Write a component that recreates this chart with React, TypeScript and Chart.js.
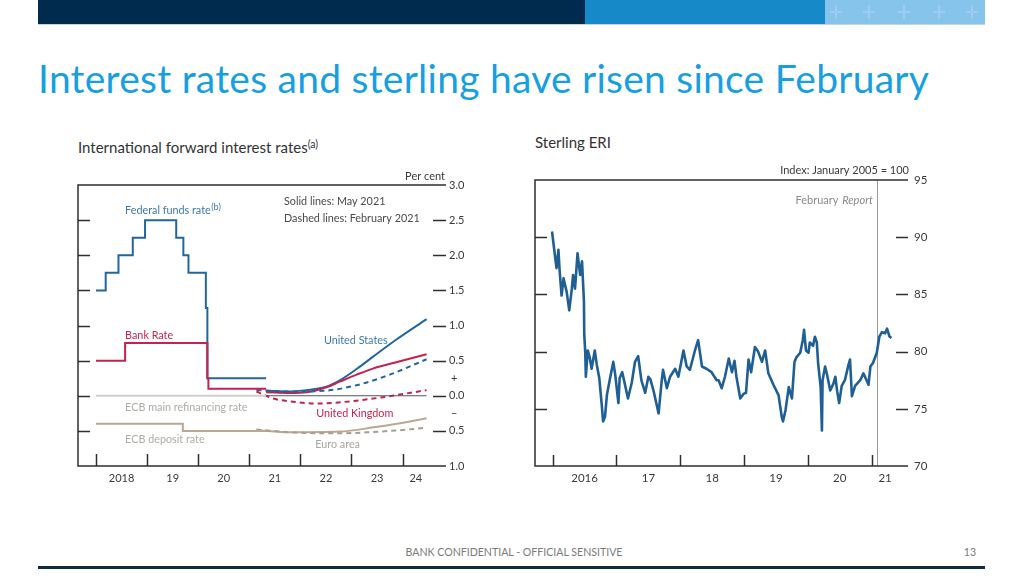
import React, { useEffect, useRef } from "react";
import { Chart, registerables } from "chart.js";

Chart.register(...registerables);

// ---------------- Left chart: International forward interest rates ----------------
const fedDates = [2018.0, 2018.19, 2018.44, 2018.72, 2018.96, 2019.57, 2019.71, 2019.81, 2020.15, 2020.18, 2021.33];
const fedRates = [1.5, 1.75, 2.0, 2.25, 2.5, 2.25, 2.0, 1.75, 1.25, 0.25, 0.25];

const bankRateDates = [2018.0, 2018.57, 2020.18, 2020.2, 2021.33];
const bankRates = [0.5, 0.75, 0.25, 0.1, 0.1];

const ecbMainDates = [2018.0, 2021.33];
const ecbMainRates = [0, 0];

const zeroLineDates = [2021.33, 2024.47];
const zeroLineRates = [0, 0];

const ecbDepositDates = [2018.0, 2019.7, 2021.33];
const ecbDepositRates = [-0.4, -0.5, -0.5];

const usMayDates = [2021.33, 2021.8, 2022.12, 2022.51, 2022.77, 2023.1, 2023.43, 2023.88, 2024.47];
const usMay = [0.07, 0.06, 0.08, 0.13, 0.22, 0.38, 0.56, 0.8, 1.09];

const ukMayDates = [2021.33, 2021.8, 2022.12, 2022.51, 2022.77, 2023.1, 2023.43, 2023.95, 2024.47];
const ukMay = [0.05, 0.04, 0.05, 0.12, 0.2, 0.3, 0.39, 0.49, 0.59];

const usFebDates = [2021.14, 2021.8, 2022.45, 2023.1, 2023.75, 2024.47];
const usFeb = [0.08, 0.06, 0.07, 0.15, 0.3, 0.52];

const ukFebDates = [2021.14, 2021.47, 2021.8, 2022.32, 2022.97, 2023.62, 2024.47];
const ukFeb = [0.06, -0.04, -0.08, -0.11, -0.08, -0.02, 0.08];

const euroMayDates = [2021.14, 2021.8, 2022.77, 2023.43, 2023.95, 2024.47];
const euroMay = [-0.49, -0.52, -0.51, -0.45, -0.39, -0.32];

const euroFebDates = [2021.14, 2021.8, 2022.77, 2023.43, 2023.95, 2024.47];
const euroFeb = [-0.48, -0.52, -0.535, -0.515, -0.49, -0.455];

const leftYearTicks = [2018, 2019, 2020, 2021, 2022, 2023, 2024];
const leftYearLabels = ["2018", "19", "20", "21", "22", "23", "24"];
const leftYearLabelAt = [2018.5, 2019.5, 2020.5, 2021.5, 2022.5, 2023.5, 2024.26];
const leftTickMarks = [2.5, 2.0, 1.5, 1.0, 0.5, 0.0, -0.5];
const leftTickValues = [3.0, 2.5, 2.0, 1.5, 1.0, 0.5, 0.25, 0.0, -0.25, -0.5, -1.0];
const leftTickLabels = ["3.0", "2.5", "2.0", "1.5", "1.0", "0.5", "+", "0.0", "\u2013", "0.5", "1.0"];

// ---------------- Right chart: Sterling ERI ----------------
const eriDates = [
  2015.99, 2016.04, 2016.06, 2016.09, 2016.11, 2016.14, 2016.17, 2016.22, 2016.26, 2016.3,
  2016.32, 2016.35, 2016.39, 2016.43, 2016.46, 2016.49, 2016.495, 2016.51, 2016.52, 2016.55,
  2016.58, 2016.61, 2016.66, 2016.69, 2016.73, 2016.77, 2016.79, 2016.82, 2016.85, 2016.9,
  2016.95, 2016.98, 2017.03, 2017.05, 2017.09, 2017.13, 2017.18, 2017.24, 2017.29, 2017.34,
  2017.39, 2017.45, 2017.5, 2017.53, 2017.58, 2017.66, 2017.71, 2017.73, 2017.79, 2017.84,
  2017.92, 2017.97, 2018.05, 2018.1, 2018.15, 2018.23, 2018.28, 2018.34, 2018.41, 2018.49,
  2018.57, 2018.6, 2018.65, 2018.7, 2018.76, 2018.81, 2018.85, 2018.88, 2018.94, 2018.99,
  2019.03, 2019.07, 2019.11, 2019.17, 2019.22, 2019.28, 2019.33, 2019.38, 2019.46, 2019.54,
  2019.59, 2019.61, 2019.65, 2019.7, 2019.75, 2019.79, 2019.82, 2019.88, 2019.92, 2019.94,
  2019.97, 2020.01, 2020.03, 2020.08, 2020.11, 2020.14, 2020.16, 2020.2, 2020.22, 2020.23,
  2020.27, 2020.3, 2020.35, 2020.4, 2020.43, 2020.46, 2020.49, 2020.53, 2020.58, 2020.63,
  2020.66, 2020.69, 2020.74, 2020.82, 2020.87, 2020.92, 2020.95, 2020.98, 2021.02, 2021.08,
  2021.12, 2021.16, 2021.21, 2021.24, 2021.28, 2021.31,
];
const eriValues = [
  90.5, 88.2, 87.3, 88.9, 87.0, 84.9, 86.4, 85.2, 83.6, 85.5,
  86.7, 85.5, 88.6, 86.7, 87.9, 84.4, 81.5, 80.0, 77.8, 80.1,
  79.5, 78.5, 80.1, 78.9, 77.7, 75.3, 73.9, 74.3, 76.2, 77.7,
  79.1, 78.0, 75.5, 77.7, 78.2, 77.2, 75.9, 77.3, 79.1, 79.6,
  77.5, 76.4, 77.8, 77.6, 76.6, 74.6, 77.5, 78.4, 76.8, 77.8,
  78.5, 77.8, 80.1, 78.7, 78.4, 80.1, 81.0, 78.7, 78.5, 78.2,
  77.5, 77.5, 76.8, 77.8, 79.4, 78.2, 79.2, 77.8, 75.9, 76.3,
  76.4, 79.3, 78.2, 80.4, 80.0, 79.1, 80.1, 78.1, 77.1, 76.2,
  74.3, 73.9, 74.9, 76.9, 75.9, 79.1, 79.5, 79.9, 81.0, 81.9,
  80.1, 79.9, 80.8, 80.5, 81.3, 80.8, 79.0, 76.9, 73.1, 77.5,
  78.7, 78.0, 76.6, 77.2, 77.8, 76.5, 75.5, 77.0, 77.5, 78.7,
  79.3, 76.1, 77.0, 77.5, 78.1, 77.5, 77.1, 78.7, 79.0, 79.9,
  81.3, 81.7, 81.6, 82.0, 81.3, 81.2,
];
const febReportDate = 2021.08;

const rightYearTicks = [2016, 2017, 2018, 2019, 2020, 2021];
const rightYearLabels = ["2016", "17", "18", "19", "20", "21"];
const rightYearLabelAt = [2016.5, 2017.5, 2018.5, 2019.5, 2020.5, 2021.21];
const rightTickMarks = [90, 85, 80, 75];
const rightTickValues = [95, 90, 85, 80, 75, 70];
const rightTickLabels = ["95", "90", "85", "80", "75", "70"];

// ---------------- styles ----------------
const FONT = 'Lato, "Open Sans", sans-serif';
const BLUE = "#23669d";
const BLUE_TXT = "#3b78b0";
const RED = "#c3234f";
const TAN = "#bba893";
const TAN_DASH = "#a59f96";
const LIGHT_GREY = "#d2cfca";
const AXIS = "#2f2f2f";
const TXT = "#3a3a3a";

const pts = (xs: number[], ys: number[]) => xs.map((x, i) => ({ x, y: ys[i] }));

function drawSup(ctx: CanvasRenderingContext2D, text: string, sup: string, x: number, y: number, size: number, color: string) {
  ctx.fillStyle = color;
  ctx.font = `${size}px ${FONT}`;
  ctx.textAlign = "left";
  ctx.textBaseline = "middle";
  ctx.fillText(text, x, y);
  const w = ctx.measureText(text).width;
  if (sup) {
    ctx.font = `${Math.round(size * 0.8)}px ${FONT}`;
    ctx.fillText(sup, x + w + 0.5, y - size * 0.3);
  }
}

const leftLabels = [
  { text: "Federal funds rate", sup: "(b)", x: 2018.57, y: 2.64, color: BLUE_TXT },
  { text: "Bank Rate", sup: "", x: 2018.57, y: 0.86, color: RED },
  { text: "ECB main refinancing rate", sup: "", x: 2018.57, y: -0.17, color: "#b0aca6" },
  { text: "ECB deposit rate", sup: "", x: 2018.57, y: -0.63, color: "#b0aca6" },
  { text: "United States", sup: "", x: 2022.46, y: 0.78, color: BLUE_TXT },
  { text: "United Kingdom", sup: "", x: 2022.31, y: -0.25, color: RED },
  { text: "Euro area", sup: "", x: 2022.29, y: -0.7, color: "#aaa6a0" },
  { text: "Solid lines: May 2021", sup: "", x: 2021.68, y: 2.77, color: "#4a4a4a" },
  { text: "Dashed lines: February 2021", sup: "", x: 2021.68, y: 2.53, color: "#4a4a4a" },
];

const leftPlugin = {
  id: "leftDecor",
  afterDatasetsDraw(chart: any) {
    const { ctx, chartArea: a, scales } = chart;
    const xs = scales.x;
    const ys = scales.y;
    ctx.save();
    ctx.strokeStyle = AXIS;
    ctx.lineWidth = 1.5;
    ctx.beginPath();
    ctx.moveTo(a.right, a.top);
    ctx.lineTo(a.left, a.top);
    ctx.lineTo(a.left, a.bottom);
    ctx.lineTo(a.right, a.bottom);
    ctx.stroke();
    ctx.beginPath();
    for (const v of leftTickMarks) {
      const py = Math.round(ys.getPixelForValue(v)) + 0.5;
      ctx.moveTo(a.left, py);
      ctx.lineTo(a.left + 12, py);
      ctx.moveTo(a.right - 13, py);
      ctx.lineTo(a.right, py);
    }
    for (const t of leftYearTicks) {
      const px = Math.round(xs.getPixelForValue(t)) + 0.5;
      ctx.moveTo(px, a.bottom);
      ctx.lineTo(px, a.bottom - 12);
    }
    ctx.stroke();
    ctx.fillStyle = TXT;
    ctx.font = `11px ${FONT}`;
    ctx.textBaseline = "middle";
    ctx.textAlign = "left";
    leftTickValues.forEach((v, i) => {
      const lab = leftTickLabels[i];
      const px = lab.length === 1 ? a.right + 5 : a.right + 3;
      ctx.fillText(lab, px, ys.getPixelForValue(v));
    });
    ctx.textAlign = "center";
    leftYearLabelAt.forEach((t, i) => {
      ctx.fillText(leftYearLabels[i], xs.getPixelForValue(t), a.bottom + 12);
    });
    ctx.textAlign = "right";
    ctx.fillText("Per cent", a.right - 1, a.top - 9);
    for (const l of leftLabels) {
      drawSup(ctx, l.text, l.sup, xs.getPixelForValue(l.x), ys.getPixelForValue(l.y), 10.8, l.color);
    }
    ctx.restore();
  },
};

const rightPlugin = {
  id: "rightDecor",
  beforeDatasetsDraw(chart: any) {
    const { ctx, chartArea: a, scales } = chart;
    const px = Math.round(scales.x.getPixelForValue(febReportDate)) + 0.5;
    ctx.save();
    ctx.strokeStyle = "#9a9a9a";
    ctx.lineWidth = 1;
    ctx.beginPath();
    ctx.moveTo(px, a.top);
    ctx.lineTo(px, a.bottom);
    ctx.stroke();
    ctx.restore();
  },
  afterDatasetsDraw(chart: any) {
    const { ctx, chartArea: a, scales } = chart;
    const xs = scales.x;
    const ys = scales.y;
    ctx.save();
    ctx.strokeStyle = AXIS;
    ctx.lineWidth = 1.5;
    ctx.beginPath();
    ctx.moveTo(a.right, a.top);
    ctx.lineTo(a.left, a.top);
    ctx.lineTo(a.left, a.bottom);
    ctx.lineTo(a.right, a.bottom);
    ctx.stroke();
    ctx.beginPath();
    for (const v of rightTickMarks) {
      const py = Math.round(ys.getPixelForValue(v)) + 0.5;
      ctx.moveTo(a.left, py);
      ctx.lineTo(a.left + 12, py);
      ctx.moveTo(a.right - 12, py);
      ctx.lineTo(a.right, py);
    }
    for (const t of rightYearTicks) {
      const px = Math.round(xs.getPixelForValue(t)) + 0.5;
      ctx.moveTo(px, a.bottom);
      ctx.lineTo(px, a.bottom - 11);
    }
    ctx.stroke();
    ctx.fillStyle = TXT;
    ctx.font = `11.5px ${FONT}`;
    ctx.textBaseline = "middle";
    ctx.textAlign = "left";
    rightTickValues.forEach((v, i) => {
      ctx.fillText(rightTickLabels[i], a.right + 6, ys.getPixelForValue(v));
    });
    ctx.textAlign = "center";
    rightYearLabelAt.forEach((t, i) => {
      ctx.fillText(rightYearLabels[i], xs.getPixelForValue(t), a.bottom + 12);
    });
    ctx.textAlign = "right";
    ctx.font = `11px ${FONT}`;
    ctx.fillText("Index: January 2005 = 100", a.right + 1, a.top - 10);
    // February Report label
    const fx = xs.getPixelForValue(febReportDate) - 4;
    const fy = a.top + 20;
    ctx.fillStyle = "#8a8a8a";
    ctx.font = `italic 11px ${FONT}`;
    ctx.fillText("Report", fx, fy);
    const w = ctx.measureText("Report").width;
    ctx.font = `11px ${FONT}`;
    ctx.fillText("February ", fx - w - 1, fy);
    ctx.restore();
  },
};

function LeftChart() {
  const ref = useRef<HTMLCanvasElement>(null);
  useEffect(() => {
    if (!ref.current) return;
    const lineDs = (data: any, color: string, extra: any = {}) => ({
      data,
      borderColor: color,
      borderWidth: 2,
      pointRadius: 0,
      fill: false,
      ...extra,
    });
    const chart = new Chart(ref.current, {
      type: "line",
      data: {
        datasets: [
          lineDs(pts(ecbMainDates, ecbMainRates), LIGHT_GREY),
          lineDs(pts(zeroLineDates, zeroLineRates), "#555555", { borderWidth: 1.2 }),
          lineDs(pts(ecbDepositDates, ecbDepositRates), TAN, { stepped: "before" }),
          lineDs(pts(euroFebDates, euroFeb), TAN_DASH, { borderDash: [5, 4], cubicInterpolationMode: "monotone" }),
          lineDs(pts(euroMayDates, euroMay), TAN, { cubicInterpolationMode: "monotone" }),
          lineDs(pts(bankRateDates, bankRates), RED, { stepped: "before" }),
          lineDs(pts(fedDates, fedRates), BLUE, { stepped: "before" }),
          lineDs(pts(ukFebDates, ukFeb), RED, { borderDash: [5, 4], cubicInterpolationMode: "monotone" }),
          lineDs(pts(usFebDates, usFeb), BLUE, { borderDash: [5, 4], cubicInterpolationMode: "monotone" }),
          lineDs(pts(ukMayDates, ukMay), RED, { cubicInterpolationMode: "monotone" }),
          lineDs(pts(usMayDates, usMay), BLUE, { cubicInterpolationMode: "monotone" }),
        ],
      },
      options: {
        animation: false,
        responsive: false,
        maintainAspectRatio: false,
        layout: { padding: { left: 8, top: 25, right: 44, bottom: 24 } },
        plugins: { legend: { display: false }, tooltip: { enabled: false } },
        scales: {
          x: { type: "linear", min: 2017.648, max: 2024.85, display: false },
          y: { type: "linear", min: -1, max: 3, display: false },
        },
      },
      plugins: [leftPlugin],
    });
    return () => chart.destroy();
  }, []);
  return (
    <canvas
      ref={ref}
      width={420}
      height={330}
      style={{ position: "absolute", left: 70, top: 160, width: 420, height: 330 }}
    />
  );
}

function RightChart() {
  const ref = useRef<HTMLCanvasElement>(null);
  useEffect(() => {
    if (!ref.current) return;
    const chart = new Chart(ref.current, {
      type: "line",
      data: {
        datasets: [
          {
            data: pts(eriDates, eriValues),
            borderColor: "#1f5f94",
            borderWidth: 2.6,
            borderJoinStyle: "round",
            pointRadius: 0,
            fill: false,
            tension: 0,
          },
        ],
      },
      options: {
        animation: false,
        responsive: false,
        maintainAspectRatio: false,
        layout: { padding: { left: 15, top: 25, right: 32, bottom: 24 } },
        plugins: { legend: { display: false }, tooltip: { enabled: false } },
        scales: {
          x: { type: "linear", min: 2015.723, max: 2021.569, display: false },
          y: { type: "linear", min: 70, max: 95, display: false },
        },
      },
      plugins: [rightPlugin],
    });
    return () => chart.destroy();
  }, []);
  return (
    <canvas
      ref={ref}
      width={420}
      height={335}
      style={{ position: "absolute", left: 520, top: 155, width: 420, height: 335 }}
    />
  );
}

const abs = (s: React.CSSProperties): React.CSSProperties => ({ position: "absolute", ...s });

export default function App() {
  const crossXs = [836, 869, 904, 939, 972];
  return (
    <div style={abs({ left: 0, top: 0, width: 1024, height: 576, background: "#ffffff", overflow: "hidden", fontFamily: FONT })}>
      {/* header bars */}
      <div style={abs({ left: 38, top: 0, width: 547, height: 24, background: "#002a4e" })} />
      <div style={abs({ left: 585, top: 0, width: 240, height: 24, background: "#1689c9" })} />
      <div style={abs({ left: 825, top: 0, width: 160, height: 24, background: "#86c4ec" })} />
      <div style={abs({ left: 38, top: 24, width: 947, height: 1, background: "#c9d3dd" })} />
      {crossXs.map((cx) => (
        <React.Fragment key={cx}>
          <div style={abs({ left: cx - 1, top: 5, width: 2, height: 14, background: "#9dcdf0" })} />
          <div style={abs({ left: cx - 6, top: 11, width: 12, height: 2, background: "#9dcdf0" })} />
        </React.Fragment>
      ))}

      {/* title */}
      <div
        style={abs({
          left: 38,
          top: 55,
          fontSize: 39,
          letterSpacing: 0.25,
          lineHeight: "46px",
          color: "#189fe2",
          whiteSpace: "nowrap",
          fontFamily: FONT,
        })}
      >
        Interest rates and sterling have risen since February
      </div>

      {/* chart titles */}
      <div style={abs({ left: 78, top: 138, fontSize: 15, lineHeight: "18px", color: "#333", whiteSpace: "nowrap" })}>
        International forward interest rates<sup style={{ fontSize: 10.5, verticalAlign: "top", lineHeight: "12px" }}>(a)</sup>
      </div>
      <div style={abs({ left: 535, top: 133, fontSize: 15, lineHeight: "18px", color: "#333", whiteSpace: "nowrap" })}>
        Sterling ERI
      </div>

      <LeftChart />
      <RightChart />

      {/* footer */}
      <div style={abs({ left: 314, top: 545, width: 400, textAlign: "center", fontSize: 10.6, lineHeight: "14px", color: "#7a7a7a", whiteSpace: "nowrap" })}>
        BANK CONFIDENTIAL - OFFICIAL SENSITIVE
      </div>
      <div style={abs({ left: 960, top: 545, width: 20, textAlign: "center", fontSize: 10.6, lineHeight: "14px", color: "#7a7a7a" })}>
        13
      </div>
      <div style={abs({ left: 38, top: 566, width: 947, height: 3, background: "#0f2b48" })} />
    </div>
  );
}
